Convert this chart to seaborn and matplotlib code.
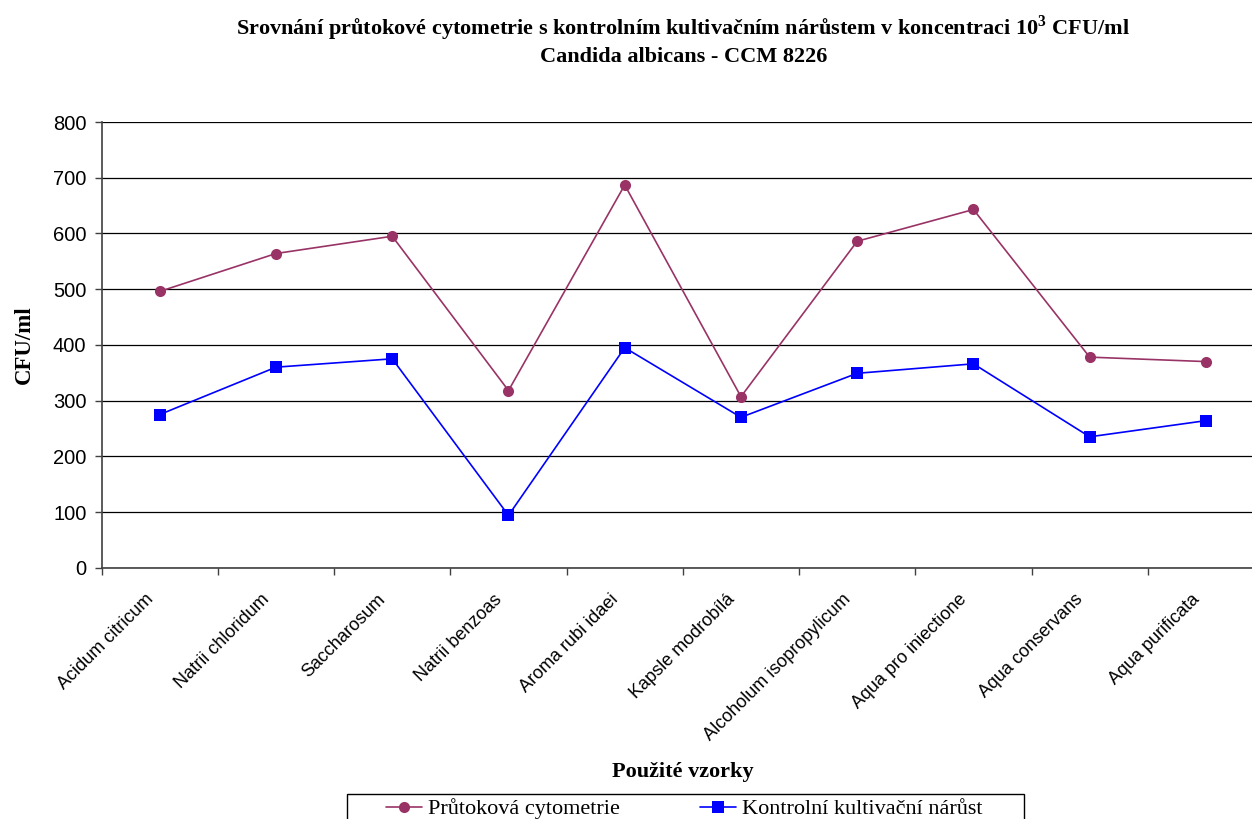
import matplotlib
matplotlib.use("Agg")
import matplotlib.pyplot as plt
import seaborn as sns
import pandas as pd
from matplotlib.ticker import FixedLocator, NullFormatter
from matplotlib.patches import Rectangle

# Sample names (x axis)
samples = [
    "Acidum citricum", "Natrii chloridum", "Saccharosum", "Natrii benzoas",
    "Aroma rubi idaei", "Kapsle modrobílá", "Alcoholum isopropylicum",
    "Aqua pro iniectione", "Aqua conservans", "Aqua purificata",
]

# CFU/ml counts for each method
flow_cytometry = [496, 564, 595, 318, 687, 307, 586, 643, 378, 370]
control_growth = [275, 360, 375, 94, 395, 270, 349, 366, 235, 264]

series_names = ["Průtoková cytometrie", "Kontrolní kultivační nárůst"]
y_ticks = [0, 100, 200, 300, 400, 500, 600, 700, 800]

df = pd.DataFrame({
    "vzorek": samples * 2,
    "CFU/ml": flow_cytometry + control_growth,
    "metoda": [series_names[0]] * len(samples) + [series_names[1]] * len(samples),
})

sns.set_theme(style="white")
plt.rcParams["font.family"] = ["Liberation Sans", "DejaVu Sans"]
plt.rcParams["text.color"] = "black"
plt.rcParams["axes.labelcolor"] = "black"
plt.rcParams["mathtext.fontset"] = "custom"
plt.rcParams["mathtext.rm"] = "Liberation Serif:bold"
plt.rcParams["mathtext.bf"] = "Liberation Serif:bold"

fig = plt.figure(figsize=(12.52, 8.19), dpi=100)
ax = fig.add_axes([0.0812, 0.3068, 0.9284, 0.5442])

palette = {series_names[0]: "#993366", series_names[1]: "#0000FF"}
markers = {series_names[0]: "o", series_names[1]: "s"}
sns.lineplot(
    data=df, x="vzorek", y="CFU/ml", hue="metoda", style="metoda",
    palette=palette, markers=markers, dashes=False, markersize=8,
    markeredgewidth=0, linewidth=1.2, sort=False, ax=ax, legend=True,
)

n = len(samples)
ax.set_xlim(-0.5, n - 0.5)
ax.set_ylim(0, 800)
ax.set_yticks(y_ticks)
ax.set_yticklabels([str(v) for v in y_ticks], fontsize=14.5, color="black")

# Tick marks at category boundaries; names drawn slanted under each centre
ax.xaxis.set_major_locator(FixedLocator([i - 0.5 for i in range(n + 1)]))
ax.xaxis.set_major_formatter(NullFormatter())
for i, name in enumerate(samples):
    ax.annotate(name, xy=(i, 0), xycoords=("data", "axes fraction"),
                xytext=(-6.5, -21), textcoords="offset points",
                rotation=45, ha="right", va="center", rotation_mode="anchor",
                fontsize=13, color="black", annotation_clip=False)
ax.tick_params(axis="x", which="major", length=5, width=1, color="#404040",
               direction="out", bottom=True)
ax.tick_params(axis="y", which="major", length=5, width=1, color="#404040",
               direction="out", left=True, pad=6)

ax.yaxis.grid(True, color="black", linewidth=0.9)
ax.set_axisbelow(True)
for side in ["top", "right"]:
    ax.spines[side].set_visible(False)
for side in ["left", "bottom"]:
    ax.spines[side].set_color("#404040")
    ax.spines[side].set_linewidth(1.2)

ax.set_xlabel("")
ax.set_ylabel("CFU/ml", family="Liberation Serif", fontweight="bold",
              fontsize=16.5, labelpad=13)

fig.text(0.5457, 1 - 772 / 819, "Použité vzorky", ha="center", va="center",
         family="Liberation Serif", fontweight="bold", fontsize=16)

fig.text(0.5457, 1 - 28 / 819,
         "Srovnání průtokové cytometrie s kontrolním kultivačním nárůstem v koncentraci 10$^{3}$ CFU/ml",
         ha="center", va="center", family="Liberation Serif",
         fontweight="bold", fontsize=16)
fig.text(0.5457, 1 - 57 / 819, "Candida albicans - CCM 8226",
         ha="center", va="center", family="Liberation Serif",
         fontweight="bold", fontsize=16)

handles, labels = ax.get_legend_handles_labels()
ax.legend_.remove()
leg = fig.legend(
    handles, labels, loc="upper center", bbox_to_anchor=(0.5467, 1 - 794 / 819),
    ncol=2, frameon=False,
    prop={"family": "Liberation Serif", "size": 16},
    handlelength=1.6, handletextpad=0.3, columnspacing=3.6, borderpad=0.2,
    borderaxespad=0,
)
# Legend box, wider than the entries themselves
fig.patches.append(Rectangle(
    (347 / 1252, -0.02), (1024 - 347) / 1252, 0.02 + 1 - 794 / 819,
    transform=fig.transFigure, fill=False, edgecolor="black", linewidth=1.0,
))

fig.savefig("out.png", dpi=100)
